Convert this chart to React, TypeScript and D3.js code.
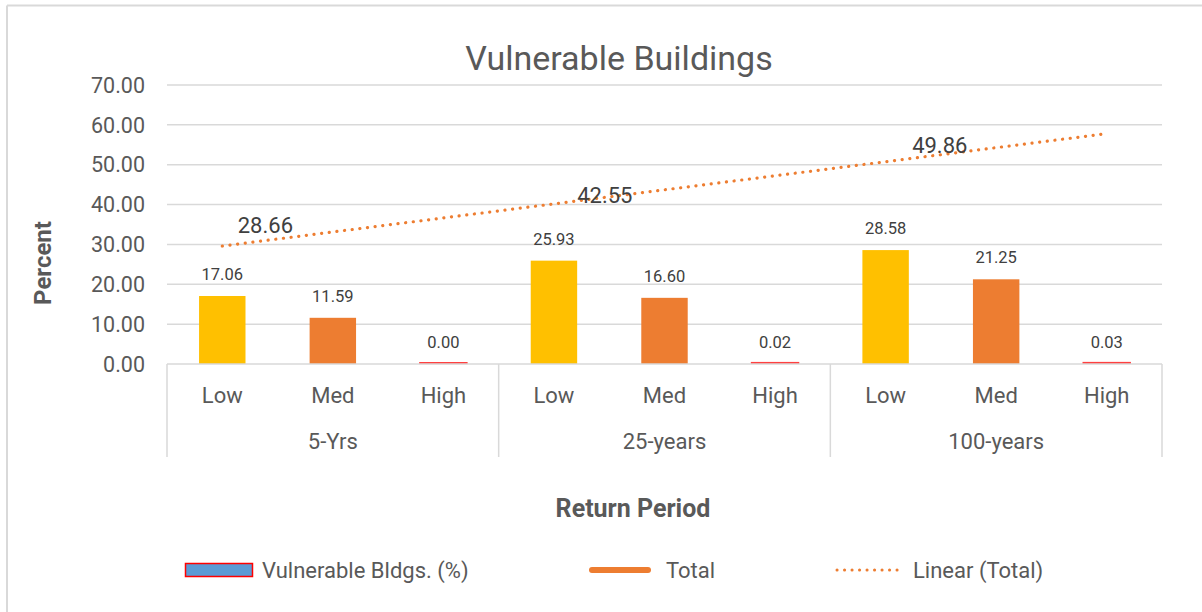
import React, { useEffect, useRef } from 'react';
import * as d3 from 'd3';

// chart values
const groups = ['5-Yrs', '25-years', '100-years'];
const levels = ['Low', 'Med', 'High'];
const lowValues = [17.06, 25.93, 28.58];
const medValues = [11.59, 16.6, 21.25];
const highValues = [0.0, 0.02, 0.03];
const totalValues = [28.66, 42.55, 49.86];
const trendEnds = [29.6, 57.8];
const yTicks = [0, 10, 20, 30, 40, 50, 60, 70];

const W = 1202;
const H = 612;
const FONT = "Roboto, 'Noto Sans', sans-serif";
const TEXT = '#595959';
const LABEL = '#404040';
const GRID = '#D9D9D9';
const ORANGE = '#ED7D31';
const YELLOW = '#FFC000';

const App = () => {
  const ref = useRef<SVGSVGElement>(null);

  useEffect(() => {
    const svg = d3.select(ref.current);
    svg.selectAll('*').remove();

    const left = 167, right = 1162, top = 85, bottom = 364;
    const y = d3.scaleLinear().domain([0, 70]).range([bottom, top]);
    const x0 = d3.scaleBand<string>().domain(groups).range([left, right]).padding(0);
    const x1 = d3.scaleBand<string>().domain(levels).range([0, x0.bandwidth()]).padding(0);
    const barW = x1.bandwidth() * 0.42;
    const center = (g: string, l: string) => (x0(g) as number) + (x1(l) as number) + x1.bandwidth() / 2;

    // chart frame (only top and left edges fall inside the picture)
    svg.append('line').attr('x1', 7).attr('x2', W).attr('y1', 5.5).attr('y2', 5.5)
      .attr('stroke', GRID).attr('stroke-width', 2);
    svg.append('line').attr('x1', 7).attr('x2', 7).attr('y1', 5.5).attr('y2', H)
      .attr('stroke', GRID).attr('stroke-width', 2);

    svg.append('text').attr('x', 619).attr('y', 70).attr('text-anchor', 'middle')
      .attr('font-size', 34).attr('fill', TEXT).text('Vulnerable Buildings');

    // gridlines + y tick labels
    svg.selectAll('.grid').data(yTicks.slice(1)).enter().append('line')
      .attr('x1', left).attr('x2', right)
      .attr('y1', d => y(d)).attr('y2', d => y(d))
      .attr('stroke', GRID).attr('stroke-width', 1.5);
    svg.selectAll('.ytl').data(yTicks).enter().append('text')
      .attr('x', 145).attr('y', d => y(d)).attr('dy', '0.36em')
      .attr('text-anchor', 'end').attr('font-size', 21.5).attr('fill', TEXT)
      .text(d => d.toFixed(2));

    svg.append('text').attr('transform', `translate(51,263) rotate(-90)`)
      .attr('text-anchor', 'middle').attr('font-size', 24).attr('font-weight', 'bold')
      .attr('fill', TEXT).text('Percent');

    // bars
    const series = [
      { key: 'Low', vals: lowValues, fill: YELLOW, stroke: 'none' },
      { key: 'Med', vals: medValues, fill: ORANGE, stroke: 'none' },
      { key: 'High', vals: highValues, fill: '#5B9BD5', stroke: '#FF4040' },
    ];
    series.forEach(s => {
      const g = svg.append('g');
      g.selectAll('rect').data(s.vals).enter().append('rect')
        .attr('x', (_, i) => center(groups[i], s.key) - barW / 2)
        .attr('width', barW)
        .attr('y', d => y(d) - (s.stroke === 'none' ? 0 : 1))
        .attr('height', d => Math.max(y(0) - y(d), 0.1))
        .attr('fill', s.fill)
        .attr('stroke', s.stroke)
        .attr('stroke-width', 2);
      g.selectAll('text').data(s.vals).enter().append('text')
        .attr('x', (_, i) => center(groups[i], s.key))
        .attr('y', d => y(d) - 16)
        .attr('text-anchor', 'middle').attr('font-size', 16.5).attr('fill', LABEL)
        .text(d => d.toFixed(2));
    });

    // category axis
    svg.append('line').attr('x1', left).attr('x2', right).attr('y1', bottom).attr('y2', bottom)
      .attr('stroke', GRID).attr('stroke-width', 1.5);
    const seps = [...groups.map(g => x0(g) as number), right];
    svg.selectAll('.sep').data(seps).enter().append('line')
      .attr('x1', d => d).attr('x2', d => d).attr('y1', bottom).attr('y2', 457)
      .attr('stroke', GRID).attr('stroke-width', 1.5);
    groups.forEach(g => {
      levels.forEach(l => {
        svg.append('text').attr('x', center(g, l)).attr('y', 403)
          .attr('text-anchor', 'middle').attr('font-size', 22).attr('fill', TEXT).text(l);
      });
      svg.append('text').attr('x', (x0(g) as number) + x0.bandwidth() / 2).attr('y', 449)
        .attr('text-anchor', 'middle').attr('font-size', 22).attr('fill', TEXT).text(g);
    });

    svg.append('text').attr('x', 633).attr('y', 517).attr('text-anchor', 'middle')
      .attr('font-size', 25).attr('font-weight', 'bold').attr('fill', TEXT).text('Return Period');

    // linear trend of Total, from first to last category
    const xi = d3.scaleLinear().domain([0, 8])
      .range([center(groups[0], levels[0]), center(groups[2], levels[2])]);
    const tr = d3.scaleLinear().domain([0, 8]).range(trendEnds);
    svg.append('path')
      .attr('d', d3.line<number>().x(d => xi(d)).y(d => y(tr(d)))([0, 8]))
      .attr('stroke', ORANGE).attr('stroke-width', 3.2).attr('fill', 'none')
      .attr('stroke-linecap', 'round').attr('stroke-dasharray', '0.1 7.6');

    // Total labels sit along the trend
    const labelAt = [0.39, 3.46, 6.49];
    const labelDy = [-8, 6, -2];
    svg.selectAll('.tot').data(totalValues).enter().append('text')
      .attr('x', (_, i) => xi(labelAt[i]))
      .attr('y', (_, i) => y(tr(labelAt[i])) + labelDy[i])
      .attr('text-anchor', 'middle').attr('font-size', 22).attr('fill', LABEL)
      .text(d => d.toFixed(2));

    // legend
    const ly = 570;
    svg.append('rect').attr('x', 185.5).attr('y', ly - 6.5).attr('width', 67).attr('height', 13)
      .attr('fill', '#5B9BD5').attr('stroke', '#FF0000').attr('stroke-width', 1.5);
    svg.append('text').attr('x', 262).attr('y', ly + 8).attr('font-size', 22).attr('fill', TEXT)
      .text('Vulnerable Bldgs. (%)');
    svg.append('line').attr('x1', 592).attr('x2', 648).attr('y1', ly).attr('y2', ly)
      .attr('stroke', ORANGE).attr('stroke-width', 6).attr('stroke-linecap', 'round');
    svg.append('text').attr('x', 666).attr('y', ly + 8).attr('font-size', 22).attr('fill', TEXT)
      .text('Total');
    svg.append('line').attr('x1', 837).attr('x2', 904).attr('y1', ly).attr('y2', ly)
      .attr('stroke', ORANGE).attr('stroke-width', 3).attr('stroke-linecap', 'round')
      .attr('stroke-dasharray', '0.1 7.4');
    svg.append('text').attr('x', 913).attr('y', ly + 8).attr('font-size', 22).attr('fill', TEXT)
      .text('Linear (Total)');
  }, []);

  return (
    <svg ref={ref} width={W} height={H}
      style={{ position: 'absolute', left: 0, top: 0, background: '#fff', fontFamily: FONT }} />
  );
};

export default App;
